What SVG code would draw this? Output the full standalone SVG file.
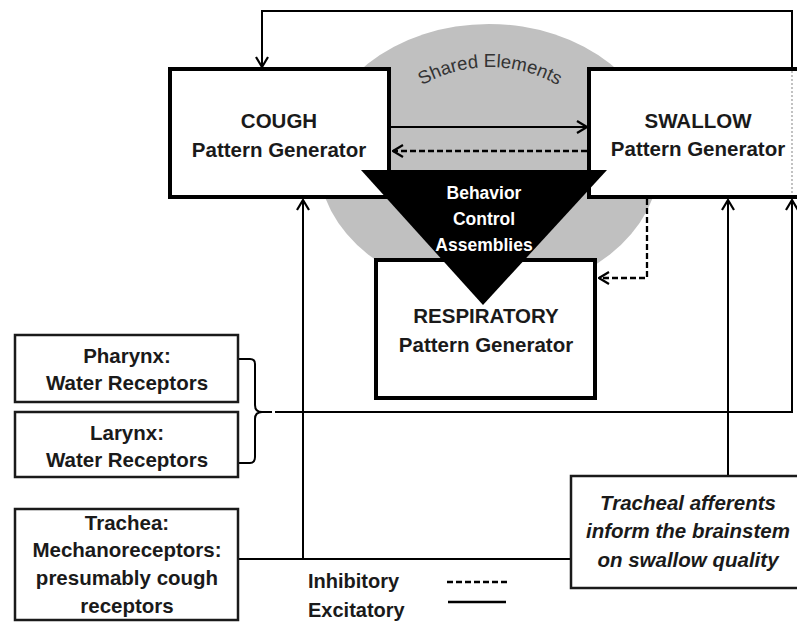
<svg xmlns="http://www.w3.org/2000/svg" width="797" height="622" viewBox="0 0 797 622">
<defs>
<style>
.t{font-family:"Liberation Sans",Arial,sans-serif;font-size:20.5px;font-weight:bold;fill:#1a1a1a;text-anchor:middle}
.ti{font-style:italic}
.w{fill:#ffffff;font-size:17.5px}
.lg{text-anchor:start;font-size:20px}
.big{fill:#fff;stroke:#000;stroke-width:4}
.sm{fill:#fff;stroke:#1a1a1a;stroke-width:2.5}
.c{fill:none;stroke:#000;stroke-width:2}
.d{fill:none;stroke:#000;stroke-width:2.3;stroke-dasharray:6 3}
</style>
<marker id="ah" viewBox="0 0 12 14" refX="11" refY="7" markerWidth="12" markerHeight="14" markerUnits="userSpaceOnUse" orient="auto">
<path d="M1,1 L11,7 L1,13" fill="none" stroke="#000" stroke-width="2.2"/>
</marker>
<path id="arc" d="M405,97 A136 136 0 0 1 575,97"/>
</defs>
<rect width="797" height="622" fill="#fff"/>
<g id="shared">
<ellipse cx="489" cy="159" rx="171" ry="135" fill="#c0c0c0"/>
<text font-family="'Liberation Sans',Arial,sans-serif" font-size="18.5" fill="#333"><textPath href="#arc" startOffset="50%" text-anchor="middle">Shared Elements</textPath></text>
</g>
<g id="connectors">
<path class="c" d="M792,69 V11 H262 V67" marker-end="url(#ah)"/>
<line class="c" x1="391" y1="127" x2="587" y2="127" marker-end="url(#ah)"/>
<line class="d" x1="587" y1="151" x2="393" y2="151" marker-end="url(#ah)"/>
<path class="d" d="M647,199 V278 H599" marker-end="url(#ah)"/>
<path class="c" d="M238,359 H250 Q255,359 255,364 V405 Q255,412 262,412 H272 M262,412 Q255,412 255,419 V457 Q255,463 250,463 H238"/>
<path class="c" d="M275,412 H792 V200" marker-end="url(#ah)"/>
<line class="c" x1="303" y1="559" x2="303" y2="200" marker-end="url(#ah)"/>
<line class="c" x1="728" y1="476" x2="728" y2="200" marker-end="url(#ah)"/>
<line class="c" x1="238" y1="559" x2="571" y2="559"/>
</g>
<g id="cough">
<rect class="big" x="170" y="69" width="219" height="128"/>
<text class="t" x="279" y="128">COUGH</text>
<text class="t" x="279" y="157">Pattern Generator</text>
</g>
<g id="swallow">
<rect class="big" x="589" y="69" width="230" height="128"/>
<line x1="792" y1="71" x2="792" y2="195" stroke="#999" stroke-width="1.2" stroke-dasharray="2 2"/>
<text class="t" x="698" y="128">SWALLOW</text>
<text class="t" x="698" y="156">Pattern Generator</text>
</g>
<g id="respiratory">
<rect class="big" x="376" y="260" width="219" height="138"/>
<text class="t" x="486" y="323">RESPIRATORY</text>
<text class="t" x="486" y="352">Pattern Generator</text>
</g>
<g id="behavior">
<polygon points="361,170 607,170 483,305" fill="#000"/>
<text class="t w" x="484" y="199">Behavior</text>
<text class="t w" x="484" y="225">Control</text>
<text class="t w" x="484" y="251">Assemblies</text>
</g>
<g id="pharynx">
<rect class="sm" x="15" y="335" width="223" height="67"/>
<text class="t" x="127" y="363">Pharynx:</text>
<text class="t" x="127" y="390">Water Receptors</text>
</g>
<g id="larynx">
<rect class="sm" x="15" y="412" width="223" height="65"/>
<text class="t" x="127" y="440">Larynx:</text>
<text class="t" x="127" y="467">Water Receptors</text>
</g>
<g id="trachea">
<rect class="sm" x="15" y="509" width="223" height="111"/>
<text class="t" x="127" y="530">Trachea:</text>
<text class="t" x="127" y="557">Mechanoreceptors:</text>
<text class="t" x="127" y="585">presumably cough</text>
<text class="t" x="127" y="613">receptors</text>
</g>
<g id="tracheal-afferents">
<rect class="sm" x="571" y="476" width="240" height="112"/>
<text class="t ti" x="688" y="510">Tracheal afferents</text>
<text class="t ti" x="688" y="538">inform the brainstem</text>
<text class="t ti" x="688" y="567">on swallow quality</text>
</g>
<g id="legend">
<text class="t lg" x="308" y="588">Inhibitory</text>
<text class="t lg" x="308" y="617">Excitatory</text>
<line x1="447" y1="582" x2="507" y2="582" stroke="#000" stroke-width="2.3" stroke-dasharray="6 3"/>
<line x1="448" y1="602" x2="506" y2="602" stroke="#000" stroke-width="2.5"/>
</g>
</svg>
